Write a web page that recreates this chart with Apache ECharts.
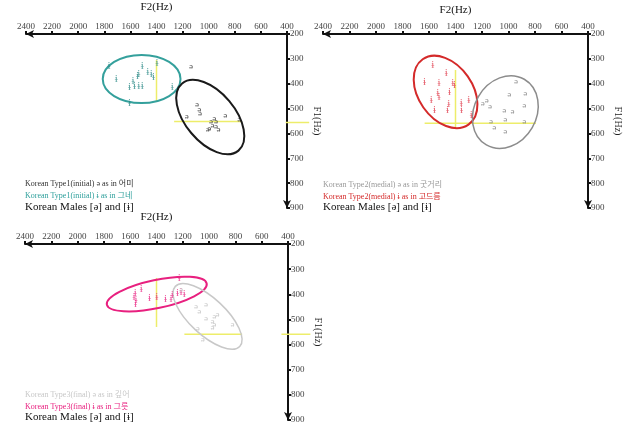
<!DOCTYPE html>
<html><head><meta charset="utf-8">
<script src="https://cdn.jsdelivr.net/npm/echarts/dist/echarts.min.js"></script>
<style>html,body{margin:0;padding:0;background:#fff}#c{width:627px;height:429px}</style>
</head><body><div id="c"></div>
<script>
// ---- axis settings ----
const F2_MIN = 400, F2_MAX = 2400, F2_STEP = 200;
const F1_MIN = 200, F1_MAX = 900, F1_STEP = 100;

// ---- panel 1: Type1 (initial) ----
const p1Schwa = [[1135,331],[1090,485],[1072,505],[1067,521],[1169,532],[957,539],[873,529],[766,545],[982,552],[944,552],[970,569],[944,572],[995,580],[924,586],[1008,583]];
const p1Barred = [[1764,328],[1509,328],[1395,318],[1708,380],[1580,390],[1545,370],[1535,360],[1466,352],[1440,362],[1423,372],[1606,412],[1568,408],[1535,408],[1509,408],[1280,412],[1606,478]];
// ellipse: [centerF2, centerF1, radiusF2(Hz), radiusF1(Hz), rotationDeg]
const p1EllSchwa = [988, 534, 336, 100, -50];
const p1EllBarred = [1514, 381, 298, 97, 0];
// male reference crosshair segments [F2a, F1a, F2b, F1b]
const p1Males = [[1400,305,1400,472],[1265,552,745,552],[410,556,230,556]];

// ---- panel 2: Type2 (medial) ----
const p2Schwa = [[944,392],[994,445],[874,441],[1165,468],[1195,482],[1139,492],[1032,508],[969,512],[881,490],[1024,546],[881,553],[1132,553],[1107,575],[1024,593]];
const p2Barred = [[1571,325],[1470,356],[1633,392],[1525,396],[1420,396],[1408,405],[1533,438],[1445,432],[1583,465],[1525,452],[1450,482],[1357,478],[1300,465],[1558,506],[1460,506],[1355,506],[1280,526]];
const p2EllSchwa = [1024, 514, 286, 125, 60];
const p2EllBarred = [1475, 433, 301, 109, -55];
const p2Males = [[1400,345,1400,578],[1633,559,793,559]];

// ---- panel 3: Type3 (final) ----
const p3Schwa = [[1213,383],[1099,449],[1023,443],[1074,469],[961,489],[936,482],[1023,496],[974,510],[961,522],[974,534],[1087,535],[822,522],[1049,582]];
const p3Barred = [[1226,336],[1516,378],[1562,395],[1570,410],[1555,425],[1560,440],[1453,416],[1398,410],[1332,420],[1280,404],[1289,418],[1240,396],[1213,390],[1188,398]];
const p3EllSchwa = [1012, 488, 335, 72, -43];
const p3EllBarred = [1398, 399, 388, 56, 12];
const p3Males = [[1400,335,1400,530],[1188,559,749,559],[450,559,230,559]];

const legend1 = ['Korean Type1(initial) ə as in 어미', 'Korean Type1(initial) ɨ as in 그네', 'Korean Males [ə] and [ɨ]'];
const legend2 = ['Korean Type2(medial) ə as in 굿거리', 'Korean Type2(medial) ɨ as in 고드름', 'Korean Males [ə] and [ɨ]'];
const legend3 = ['Korean Type3(final) ə as in 깊어', 'Korean Type3(final) ɨ as in 그릇', 'Korean Males [ə] and [ɨ]'];

const SERIF = '"Liberation Serif", "Noto Sans CJK KR", serif';

const chart = echarts.init(document.getElementById('c'), null, {renderer: 'canvas'});

const grids = [
  {left: 26, top: 34, width: 261, height: 174},
  {left: 323, top: 34, width: 265, height: 174},
  {left: 25, top: 244, width: 263, height: 176}
];

function plain(v){ return String(v); }

function xAx(i){
  return {type:'value', gridIndex:i, position:'top', inverse:true, min:F2_MIN, max:F2_MAX, interval:F2_STEP,
    name:'F2(Hz)', nameLocation:'middle', nameGap: i===1 ? 18 : 21,
    nameTextStyle:{fontFamily:SERIF, fontSize:11, color:'#111'},
    axisLine:{show:true, onZero:false, lineStyle:{color:'#111', width:2}, symbol:['arrow','none'], symbolSize:[6,8]},
    axisTick:{show:true, length:3, lineStyle:{color:'#111', width:2}},
    axisLabel:{fontFamily:SERIF, fontSize:9, color:'#444', margin:3, formatter:plain},
    splitLine:{show:false}};
}
function yAx(i){
  return {type:'value', gridIndex:i, position:'right', inverse:true, min:F1_MIN, max:F1_MAX, interval:F1_STEP,
    name:'F1(Hz)', nameLocation:'middle', nameGap:25, nameRotate:-90,
    nameTextStyle:{fontFamily:SERIF, fontSize:10, color:'#222'},
    axisLine:{show:true, onZero:false, lineStyle:{color:'#111', width:2}, symbol:['arrow','none'], symbolSize:[6,8]},
    axisTick:{show:true, length:3, lineStyle:{color:'#111', width:2}},
    axisLabel:{fontFamily:SERIF, fontSize:9, color:'#444', margin:3, formatter:plain},
    splitLine:{show:false}};
}

function marks(i, data, glyph, color, size){
  return {type:'scatter', xAxisIndex:i, yAxisIndex:i, data:data, symbolSize:1, silent:true,
    itemStyle:{color:'rgba(0,0,0,0)'},
    label:{show:true, position:'inside', formatter:glyph, color:color, fontSize:size, fontFamily:SERIF},
    emphasis:{disabled:true}, z:5};
}
function ellipse(i, ell, color, width){
  return {type:'custom', xAxisIndex:i, yAxisIndex:i, data:[ell], silent:true, z:4,
    renderItem:function(params, api){
      const c = api.coord([api.value(0), api.value(1)]);
      const s = api.size([api.value(2), api.value(3)]);
      return {type:'ellipse', x:c[0], y:c[1], rotation: api.value(4)*Math.PI/180,
        shape:{cx:0, cy:0, rx:s[0], ry:s[1]},
        style:{fill:'none', stroke:color, lineWidth:width}};
    }};
}
function males(i, segs){
  return {type:'custom', xAxisIndex:i, yAxisIndex:i, data:segs, silent:true, z:3, clip:false,
    renderItem:function(params, api){
      const a = api.coord([api.value(0), api.value(1)]);
      const b = api.coord([api.value(2), api.value(3)]);
      return {type:'line', shape:{x1:a[0], y1:a[1], x2:b[0], y2:b[1]},
        style:{stroke:'#eded6a', lineWidth:1.5}};
    }};
}
function legendText(x, yTops, texts, colors){
  return texts.map(function(t, k){
    return {type:'text', left:x, top:yTops[k],
      style:{text:t, fill:colors[k], fontSize: k===2 ? 11 : 8, fontFamily:SERIF}};
  });
}

const option = {
  animation:false,
  backgroundColor:'#fff',
  grid: grids,
  xAxis:[xAx(0), xAx(1), xAx(2)],
  yAxis:[yAx(0), yAx(1), yAx(2)],
  series:[
    males(0, p1Males),
    ellipse(0, p1EllBarred, '#34a09c', 2),
    ellipse(0, p1EllSchwa, '#1a1a1a', 2),
    marks(0, p1Barred, 'ɨ', '#2a8a86', 11),
    marks(0, p1Schwa, 'ə', '#222', 9),

    males(1, p2Males),
    ellipse(1, p2EllBarred, '#d42a2a', 2),
    ellipse(1, p2EllSchwa, '#8c8c8c', 1.5),
    marks(1, p2Barred, 'ɨ', '#e0394a', 11),
    marks(1, p2Schwa, 'ə', '#777', 9),

    males(2, p3Males),
    ellipse(2, p3EllBarred, '#e8207f', 2),
    ellipse(2, p3EllSchwa, '#c8c8c8', 1.5),
    marks(2, p3Barred, 'ɨ', '#e8207f', 11),
    marks(2, p3Schwa, 'ə', '#bbb', 9)
  ],
  graphic: [].concat(
    legendText(25, [180, 192, 202], legend1, ['#333', '#2fa09c', '#111']),
    legendText(323, [181, 193, 202], legend2, ['#999', '#d42a2a', '#111']),
    legendText(25, [391, 403, 412], legend3, ['#c8c8c8', '#e8207f', '#111'])
  )
};
chart.setOption(option);
</script></body></html>
